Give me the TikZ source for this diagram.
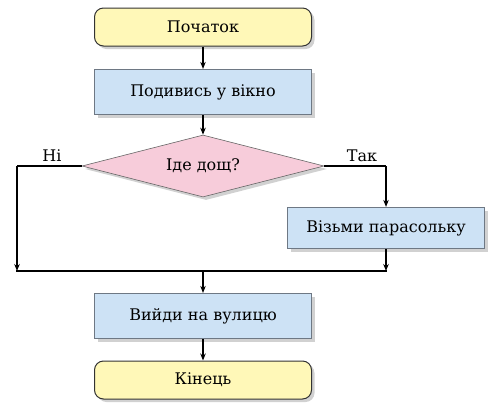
\documentclass[tikz,border=0pt]{standalone}
\usepackage{fontspec}
\setmainfont{DejaVu Serif}
\usetikzlibrary{shapes.geometric,arrows.meta,shadows}
\definecolor{termfill}{HTML}{FFF8B8}
\definecolor{procfill}{HTML}{CDE2F5}
\definecolor{decfill}{HTML}{F7CCDA}
\definecolor{edge}{HTML}{6E7884}
\begin{document}
\begin{tikzpicture}[x=1pt,y=-1pt,
  font=\fontsize{16}{18}\selectfont,
  boxshadow/.style={drop shadow={shadow xshift=3pt,shadow yshift=-3pt,opacity=0.3,fill=black!60}},
  terminal/.style={draw=black!80,line width=1pt,fill=termfill,rounded corners=9pt,minimum width=217pt,minimum height=38pt,boxshadow},
  process/.style={draw=edge,line width=1.2pt,fill=procfill,minimum width=217pt,minimum height=45pt,boxshadow},
  process2/.style={draw=edge,line width=1.2pt,fill=procfill,minimum width=197pt,minimum height=41pt,boxshadow},
  decision/.style={diamond,draw=black!60,line width=0.6pt,fill=decfill,aspect=3.9,minimum width=242pt,minimum height=62pt,inner sep=0pt,boxshadow},
  conn/.style={line width=1.6pt,-{Stealth[length=7pt,width=5.5pt]}},
  plain/.style={line width=1.6pt},
  lbl/.style={inner sep=1pt}]
\useasboundingbox (0,0) rectangle (493,408);
\node[terminal] (start) at (203,27) {Початок};
\node[process] (look) at (203,92) {Подивись у вікно};
\node[decision] (rain) at (203,166) {Іде дощ?};
\node[process2] (umb) at (386,228) {Візьми парасольку};
\node[process] (out) at (203,316) {Вийди на вулицю};
\node[terminal] (end) at (203,380) {Кінець};
\coordinate (nl) at (17,166);
\coordinate (nb) at (17,271);
\coordinate (yr) at (386,166);
\coordinate (yb) at (386,271);
\coordinate (mid) at (203,271);
\draw[conn] (start) -- (look);
\draw[conn] (look) -- (rain);
\draw[plain] (rain.west) -- (nl);
\draw[conn] (nl) -- (nb);
\draw[plain] (rain.east) -- (yr);
\draw[conn] (yr) -- (umb.north);
\draw[conn] (umb.south) -- (yb);
\draw[plain] ([xshift=-0.8pt]nb) -- ([xshift=0.8pt]yb);
\draw[conn] (mid) -- (out.north);
\draw[conn] (out) -- (end);
\node[lbl] (no) at (52,156) {Ні};
\node[lbl] (yes) at (362,156) {Так};
\end{tikzpicture}
\end{document}
